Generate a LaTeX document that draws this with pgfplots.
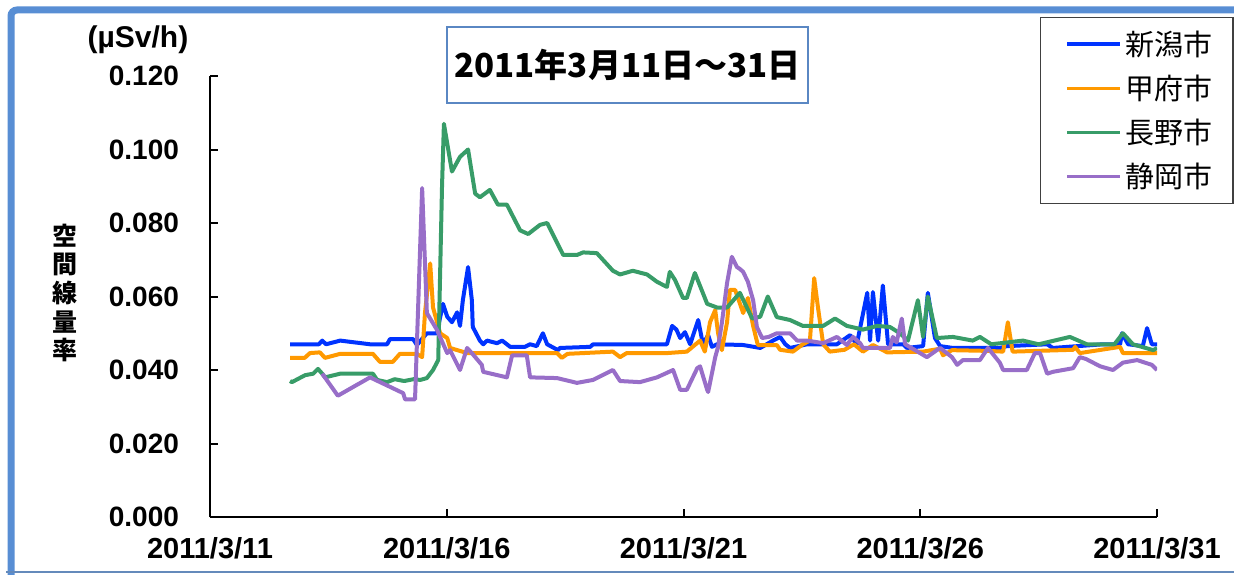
\documentclass[border=0pt]{standalone}
\usepackage{pgfplots}
\pgfplotsset{compat=1.18}
\usepackage{fontspec}
\setmainfont{Liberation Sans}
\newfontfamily\cjk{Noto Sans CJK JP}
\definecolor{cblue}{RGB}{0,51,255}
\definecolor{corange}{RGB}{255,153,0}
\definecolor{cgreen}{RGB}{56,156,104}
\definecolor{cpurple}{RGB}{152,110,200}
\definecolor{frameblue}{RGB}{88,142,212}
\definecolor{titleblue}{RGB}{90,135,195}
\begin{document}
\begin{tikzpicture}
\useasboundingbox (0,0) rectangle (617pt,287pt);
% outer frame
\draw[frameblue, line width=3.5pt, rounded corners=3pt] (640pt,282pt) -- (5.5pt,282pt) -- (5.5pt,-10pt);
\draw[frameblue!70!gray, line width=0.8pt] (3pt,1pt) -- (617pt,1pt);
\begin{axis}[
  at={(105pt,28.5pt)}, anchor=south west,
  scale only axis, width=473.5pt, height=220.5pt,
  xmin=0, xmax=20, ymin=0, ymax=0.12,
  axis lines=left, axis line style={-, line width=1.3pt, black},
  xtick={0,5,10,15,20},
  xticklabels={2011/3/11,2011/3/16,2011/3/21,2011/3/26,2011/3/31},
  ytick={0,0.02,0.04,0.06,0.08,0.1,0.12},
  scaled y ticks=false,
  yticklabel style={/pgf/number format/.cd, fixed, fixed zerofill, precision=3, assume math mode=true, /tikz/.cd, xshift=-12pt, font=\bfseries\fontsize{14}{16}\selectfont},
  xticklabel style={yshift=-6.5pt, font=\bfseries\fontsize{14.5}{16}\selectfont},
  tick align=inside, major tick length=4pt, tick style={black, line width=1pt},
  legend style={at={(0.876,1.134)}, anchor=north west, draw=black!75, line width=0.6pt,
    font=\cjk\fontsize{14.5}{17}\selectfont, row sep=4.3pt, inner xsep=8pt, inner ysep=4.5pt,
    /tikz/every even column/.append style={column sep=0pt}},
  legend cell align=left,
  legend image code/.code={\path (0pt,0pt); \draw[#1, line width=1.8pt] (4.5pt,0pt) -- (31pt,0pt);},
  every axis plot/.append style={line width=2pt, line join=round},
]
\addplot[cblue] coordinates {
(1.69,0.047)(2.30,0.047)(2.37,0.048)(2.45,0.047)(2.75,0.048)(3.38,0.047)(3.74,0.047)(3.80,0.0484)
(4.29,0.0484)(4.37,0.0468)(4.58,0.050)(4.79,0.050)(4.92,0.058)(5.01,0.0545)(5.11,0.053)(5.22,0.0557)
(5.28,0.052)(5.34,0.059)(5.45,0.068)(5.53,0.059)(5.55,0.0517)(5.70,0.048)(5.77,0.047)(5.85,0.048)
(6.06,0.0473)(6.17,0.048)(6.34,0.0463)(6.65,0.0463)(6.76,0.047)(6.90,0.0465)(7.03,0.050)(7.12,0.047)
(7.35,0.0454)(7.39,0.046)(8.03,0.0463)(8.09,0.047)(9.65,0.047)(9.76,0.052)(9.85,0.051)(9.93,0.0487)
(10.03,0.0503)(10.14,0.047)(10.31,0.0536)(10.41,0.047)(10.52,0.0495)(10.60,0.0463)(10.71,0.047)
(11.26,0.0468)(11.62,0.046)(11.89,0.048)(12.04,0.049)(12.15,0.047)(12.25,0.046)(12.61,0.047)
(13.24,0.047)(13.52,0.0495)(13.66,0.047)(13.88,0.061)(13.94,0.048)(14.00,0.0612)(14.11,0.048)
(14.21,0.063)(14.32,0.047)(14.64,0.047)(14.72,0.046)(15.06,0.0465)(15.16,0.061)(15.31,0.0487)
(15.42,0.0465)(15.69,0.046)(16.68,0.046)(16.83,0.0465)(17.68,0.047)(17.80,0.046)(18.86,0.047)
(19.22,0.047)(19.26,0.050)(19.39,0.047)(19.70,0.0465)(19.79,0.0514)(19.89,0.047)(20.00,0.047)
};
\addlegendentry{新潟市}
\addplot[corange] coordinates {
(1.69,0.0433)(2.00,0.0433)(2.11,0.0446)(2.32,0.0448)(2.43,0.0433)(2.75,0.0444)(3.44,0.0444)
(3.59,0.0422)(3.86,0.0422)(4.01,0.0444)(4.37,0.0444)(4.48,0.0435)(4.54,0.0555)(4.65,0.069)
(4.71,0.057)(4.86,0.050)(5.01,0.0487)(5.07,0.046)(5.43,0.0446)(7.33,0.0446)(7.43,0.0433)
(7.55,0.0444)(8.51,0.045)(8.66,0.0435)(8.80,0.0446)(9.65,0.0446)(10.07,0.045)(10.35,0.048)
(10.45,0.045)(10.56,0.053)(10.67,0.0563)(10.73,0.050)(10.81,0.0454)(10.92,0.053)(10.98,0.0618)
(11.09,0.0618)(11.15,0.0596)(11.26,0.0555)(11.36,0.0596)(11.47,0.052)(11.57,0.0468)(11.97,0.0468)
(12.04,0.0455)(12.31,0.045)(12.52,0.047)(12.67,0.048)(12.76,0.065)(12.84,0.057)(12.95,0.047)
(13.09,0.045)(13.40,0.0455)(13.60,0.047)(13.79,0.045)(14.00,0.0468)(14.30,0.0448)(15.06,0.045)
(15.42,0.0458)(15.48,0.044)(15.67,0.0454)(16.43,0.0452)(16.75,0.045)(16.85,0.053)(16.95,0.045)
(18.23,0.0455)(18.27,0.0463)(18.37,0.0446)(19.22,0.0463)(19.28,0.0446)(20.00,0.0446)
};
\addlegendentry{甲府市}
\addplot[cgreen] coordinates {
(1.69,0.037)(1.73,0.0367)(2.01,0.0386)(2.18,0.039)(2.28,0.0403)(2.37,0.039)(2.43,0.038)(2.75,0.039)
(3.44,0.039)(3.53,0.0373)(3.74,0.0367)(3.90,0.0375)(4.10,0.037)(4.30,0.0375)(4.44,0.0373)
(4.58,0.0378)(4.71,0.040)(4.82,0.0427)(4.90,0.090)(4.94,0.107)(5.11,0.094)(5.28,0.098)(5.45,0.100)
(5.60,0.088)(5.70,0.087)(5.91,0.089)(6.08,0.085)(6.27,0.085)(6.55,0.078)(6.72,0.077)(6.97,0.0795)
(7.12,0.080)(7.46,0.0713)(7.75,0.0713)(7.88,0.072)(8.17,0.0718)(8.51,0.067)(8.66,0.066)(8.93,0.067)
(9.23,0.066)(9.44,0.064)(9.65,0.0626)(9.71,0.0667)(9.82,0.0645)(9.99,0.0596)(10.07,0.0596)
(10.24,0.0664)(10.50,0.058)(10.71,0.057)(10.92,0.057)(11.19,0.061)(11.45,0.054)(11.62,0.0545)
(11.78,0.060)(11.97,0.0544)(12.25,0.0536)(12.52,0.052)(12.95,0.052)(13.20,0.054)(13.45,0.052)
(13.79,0.051)(14.09,0.052)(14.36,0.0517)(14.57,0.050)(14.74,0.048)(14.95,0.059)(15.06,0.049)
(15.16,0.060)(15.35,0.0487)(15.69,0.049)(16.11,0.048)(16.26,0.049)(16.50,0.047)(17.17,0.048)
(17.50,0.047)(18.16,0.049)(18.52,0.047)(19.10,0.047)(19.28,0.050)(19.49,0.047)(19.92,0.0454)(20.00,0.046)
};
\addlegendentry{長野市}
\addplot[cpurple] coordinates {
(2.37,0.039)(2.70,0.033)(3.38,0.038)(4.08,0.0337)(4.12,0.032)(4.33,0.032)(4.48,0.0895)(4.58,0.0555)
(4.79,0.051)(5.01,0.0446)(5.07,0.0454)(5.28,0.040)(5.43,0.046)(5.53,0.0446)(5.74,0.0414)(5.77,0.0395)
(6.27,0.038)(6.38,0.044)(6.69,0.044)(6.76,0.038)(7.33,0.0378)(7.75,0.0365)(8.09,0.0373)(8.51,0.040)
(8.66,0.037)(9.08,0.0367)(9.44,0.038)(9.78,0.040)(9.93,0.0346)(10.07,0.0346)(10.29,0.0405)
(10.35,0.041)(10.50,0.0346)(10.52,0.034)(10.67,0.0435)(10.73,0.0463)(10.81,0.0528)(10.92,0.0637)
(11.02,0.0708)(11.13,0.068)(11.19,0.0675)(11.26,0.0667)(11.36,0.064)(11.47,0.059)(11.55,0.0517)
(11.66,0.0487)(11.80,0.049)(11.97,0.050)(12.25,0.050)(12.40,0.048)(12.61,0.048)(12.95,0.0473)
(13.24,0.049)(13.45,0.0468)(13.58,0.049)(13.73,0.0473)(13.79,0.046)(14.36,0.046)(14.42,0.049)
(14.50,0.0475)(14.61,0.054)(14.68,0.047)(15.14,0.0435)(15.35,0.0454)(15.42,0.046)(15.67,0.0435)
(15.78,0.0414)(15.90,0.0427)(16.26,0.0427)(16.43,0.046)(16.68,0.042)(16.75,0.040)(17.25,0.040)
(17.42,0.0446)(17.53,0.0446)(17.68,0.039)(17.80,0.0395)(18.23,0.0405)(18.37,0.0435)(18.50,0.043)
(18.80,0.041)(19.07,0.040)(19.28,0.042)(19.58,0.0427)(19.89,0.0414)(20.00,0.040)
};
\addlegendentry{静岡市}
\end{axis}
% title box
\node[draw=titleblue, line width=1pt, minimum width=180.5pt, minimum height=38pt, inner sep=0pt,
  font=\cjk\bfseries\fontsize{16.5}{18}\selectfont] at (313.75pt,254.5pt) {2011年3月11日～31日};
% unit
\node[font=\bfseries\fontsize{15}{17}\selectfont] at (69pt,267pt) {(µSv/h)};
% y label
\node[font=\cjk\bfseries\fontsize{12.5}{14.3}\selectfont, align=center] at (32.5pt,140.5pt) {空\\間\\線\\量\\率};
\end{tikzpicture}
\end{document}
